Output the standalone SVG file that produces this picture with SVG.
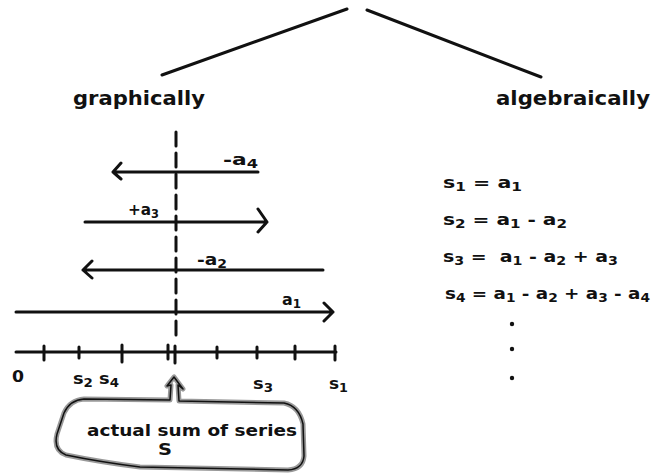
<svg xmlns="http://www.w3.org/2000/svg" width="651" height="475" viewBox="0 0 651 475">
<style>
text{font-family:"DejaVu Sans",Verdana,sans-serif;font-weight:bold;fill:#111}
.h{font-size:19px}
.l{font-size:16px}
.c{font-size:15px}
.sub{font-size:12px}
.ln{stroke:#111;stroke-width:3;fill:none;stroke-linecap:round;stroke-linejoin:round}
</style>
<rect width="651" height="475" fill="#fff"/>
<g id="connectors">
<path class="ln" d="M162,75 L347,9"/>
<path class="ln" d="M367,10 L541,77"/>
</g>
<g id="graphically"><text class="h" x="73" y="105" textLength="132" lengthAdjust="spacingAndGlyphs">graphically</text></g>
<g id="algebraically"><text class="h" x="496" y="105" textLength="154" lengthAdjust="spacingAndGlyphs">algebraically</text></g>
<g id="graph">
<path class="ln" d="M176,132 L176,336" stroke-dasharray="14 7" stroke-linecap="butt"/>
<path class="ln" d="M258,172 L113,172 M121,163 L113,172 L121,179"/>
<text class="l" x="223" y="165" textLength="35" lengthAdjust="spacingAndGlyphs">-a<tspan class="sub" dy="3">4</tspan></text>
<path class="ln" d="M85,222 L267,222 M258,209 L267,222 L258,232"/>
<text class="l" x="128" y="215" textLength="31" lengthAdjust="spacingAndGlyphs">+a<tspan class="sub" dy="3">3</tspan></text>
<path class="ln" d="M323,270 L83,270 M92,261 L83,270 L92,278"/>
<text class="l" x="197" y="265" textLength="30" lengthAdjust="spacingAndGlyphs">-a<tspan class="sub" dy="3">2</tspan></text>
<path class="ln" d="M16,312 L333,312 M324,303 L333,312 L324,321"/>
<text class="l" x="282" y="305" textLength="19" lengthAdjust="spacingAndGlyphs">a<tspan class="sub" dy="3">1</tspan></text>
</g>
<g id="numberline">
<path class="ln" d="M16,352 L336,352"/>
<path class="ln" d="M44,346 L44,360 M79,347 L79,358 M122,345 L122,362 M168,345 L168,359 M175,346 L175,363 M217,347 L217,358 M257,347 L257,358 M295,346 L295,359 M335,346 L335,360"/>
<text class="l" x="12" y="382" textLength="12" lengthAdjust="spacingAndGlyphs">0</text>
<text class="l" x="73" y="384" textLength="46" lengthAdjust="spacingAndGlyphs">s<tspan class="sub" dy="3">2</tspan><tspan dy="-3"> s</tspan><tspan class="sub" dy="3">4</tspan></text>
<text class="l" x="253" y="389" textLength="20" lengthAdjust="spacingAndGlyphs">s<tspan class="sub" dy="3">3</tspan></text>
<text class="l" x="329" y="389" textLength="19" lengthAdjust="spacingAndGlyphs">s<tspan class="sub" dy="3">1</tspan></text>
</g>
<g id="callout">
<path d="M170,400 L84,399 Q70,400 64,413 L57,434 Q53,450 66,455 Q100,462 140,467 L288,470 Q303,469 304,456 L303,424 Q299,406 284,403 L179,401 L178,385 L183,389 L174,377 L167,386 L171,385 Z" fill="#fff" stroke="#999" stroke-width="5" stroke-linejoin="round"/>
<path d="M170,400 L84,399 Q70,400 64,413 L57,434 Q53,450 66,455 Q100,462 140,467 L288,470 Q303,469 304,456 L303,424 Q299,406 284,403 L179,401 L178,385 L183,389 L174,377 L167,386 L171,385 Z" fill="none" stroke="#111" stroke-width="1.5" stroke-linejoin="round"/>
<text class="c" x="87" y="436" textLength="210" lengthAdjust="spacingAndGlyphs">actual sum of series</text>
<text class="c" x="158" y="455" textLength="14" lengthAdjust="spacingAndGlyphs">S</text>
</g>
<g id="equations">
<text class="l" x="443" y="188" textLength="79" lengthAdjust="spacingAndGlyphs" xml:space="preserve">s<tspan class="sub" dy="3">1</tspan><tspan dy="-3"> = a</tspan><tspan class="sub" dy="3">1</tspan></text>
<text class="l" x="443" y="225" textLength="124" lengthAdjust="spacingAndGlyphs" xml:space="preserve">s<tspan class="sub" dy="3">2</tspan><tspan dy="-3"> = a</tspan><tspan class="sub" dy="3">1</tspan><tspan dy="-3"> - a</tspan><tspan class="sub" dy="3">2</tspan></text>
<text class="l" x="443" y="262" textLength="175" lengthAdjust="spacingAndGlyphs" xml:space="preserve">s<tspan class="sub" dy="3">3</tspan><tspan dy="-3"> =  a</tspan><tspan class="sub" dy="3">1</tspan><tspan dy="-3"> - a</tspan><tspan class="sub" dy="3">2</tspan><tspan dy="-3"> + a</tspan><tspan class="sub" dy="3">3</tspan></text>
<text class="l" x="445" y="299" textLength="205" lengthAdjust="spacingAndGlyphs" xml:space="preserve">s<tspan class="sub" dy="3">4</tspan><tspan dy="-3"> = a</tspan><tspan class="sub" dy="3">1</tspan><tspan dy="-3"> - a</tspan><tspan class="sub" dy="3">2</tspan><tspan dy="-3"> + a</tspan><tspan class="sub" dy="3">3</tspan><tspan dy="-3"> - a</tspan><tspan class="sub" dy="3">4</tspan></text>
<circle cx="512" cy="324" r="2.2" fill="#111"/>
<circle cx="512" cy="349" r="2.2" fill="#111"/>
<circle cx="512" cy="378" r="2.2" fill="#111"/>
</g>
</svg>
